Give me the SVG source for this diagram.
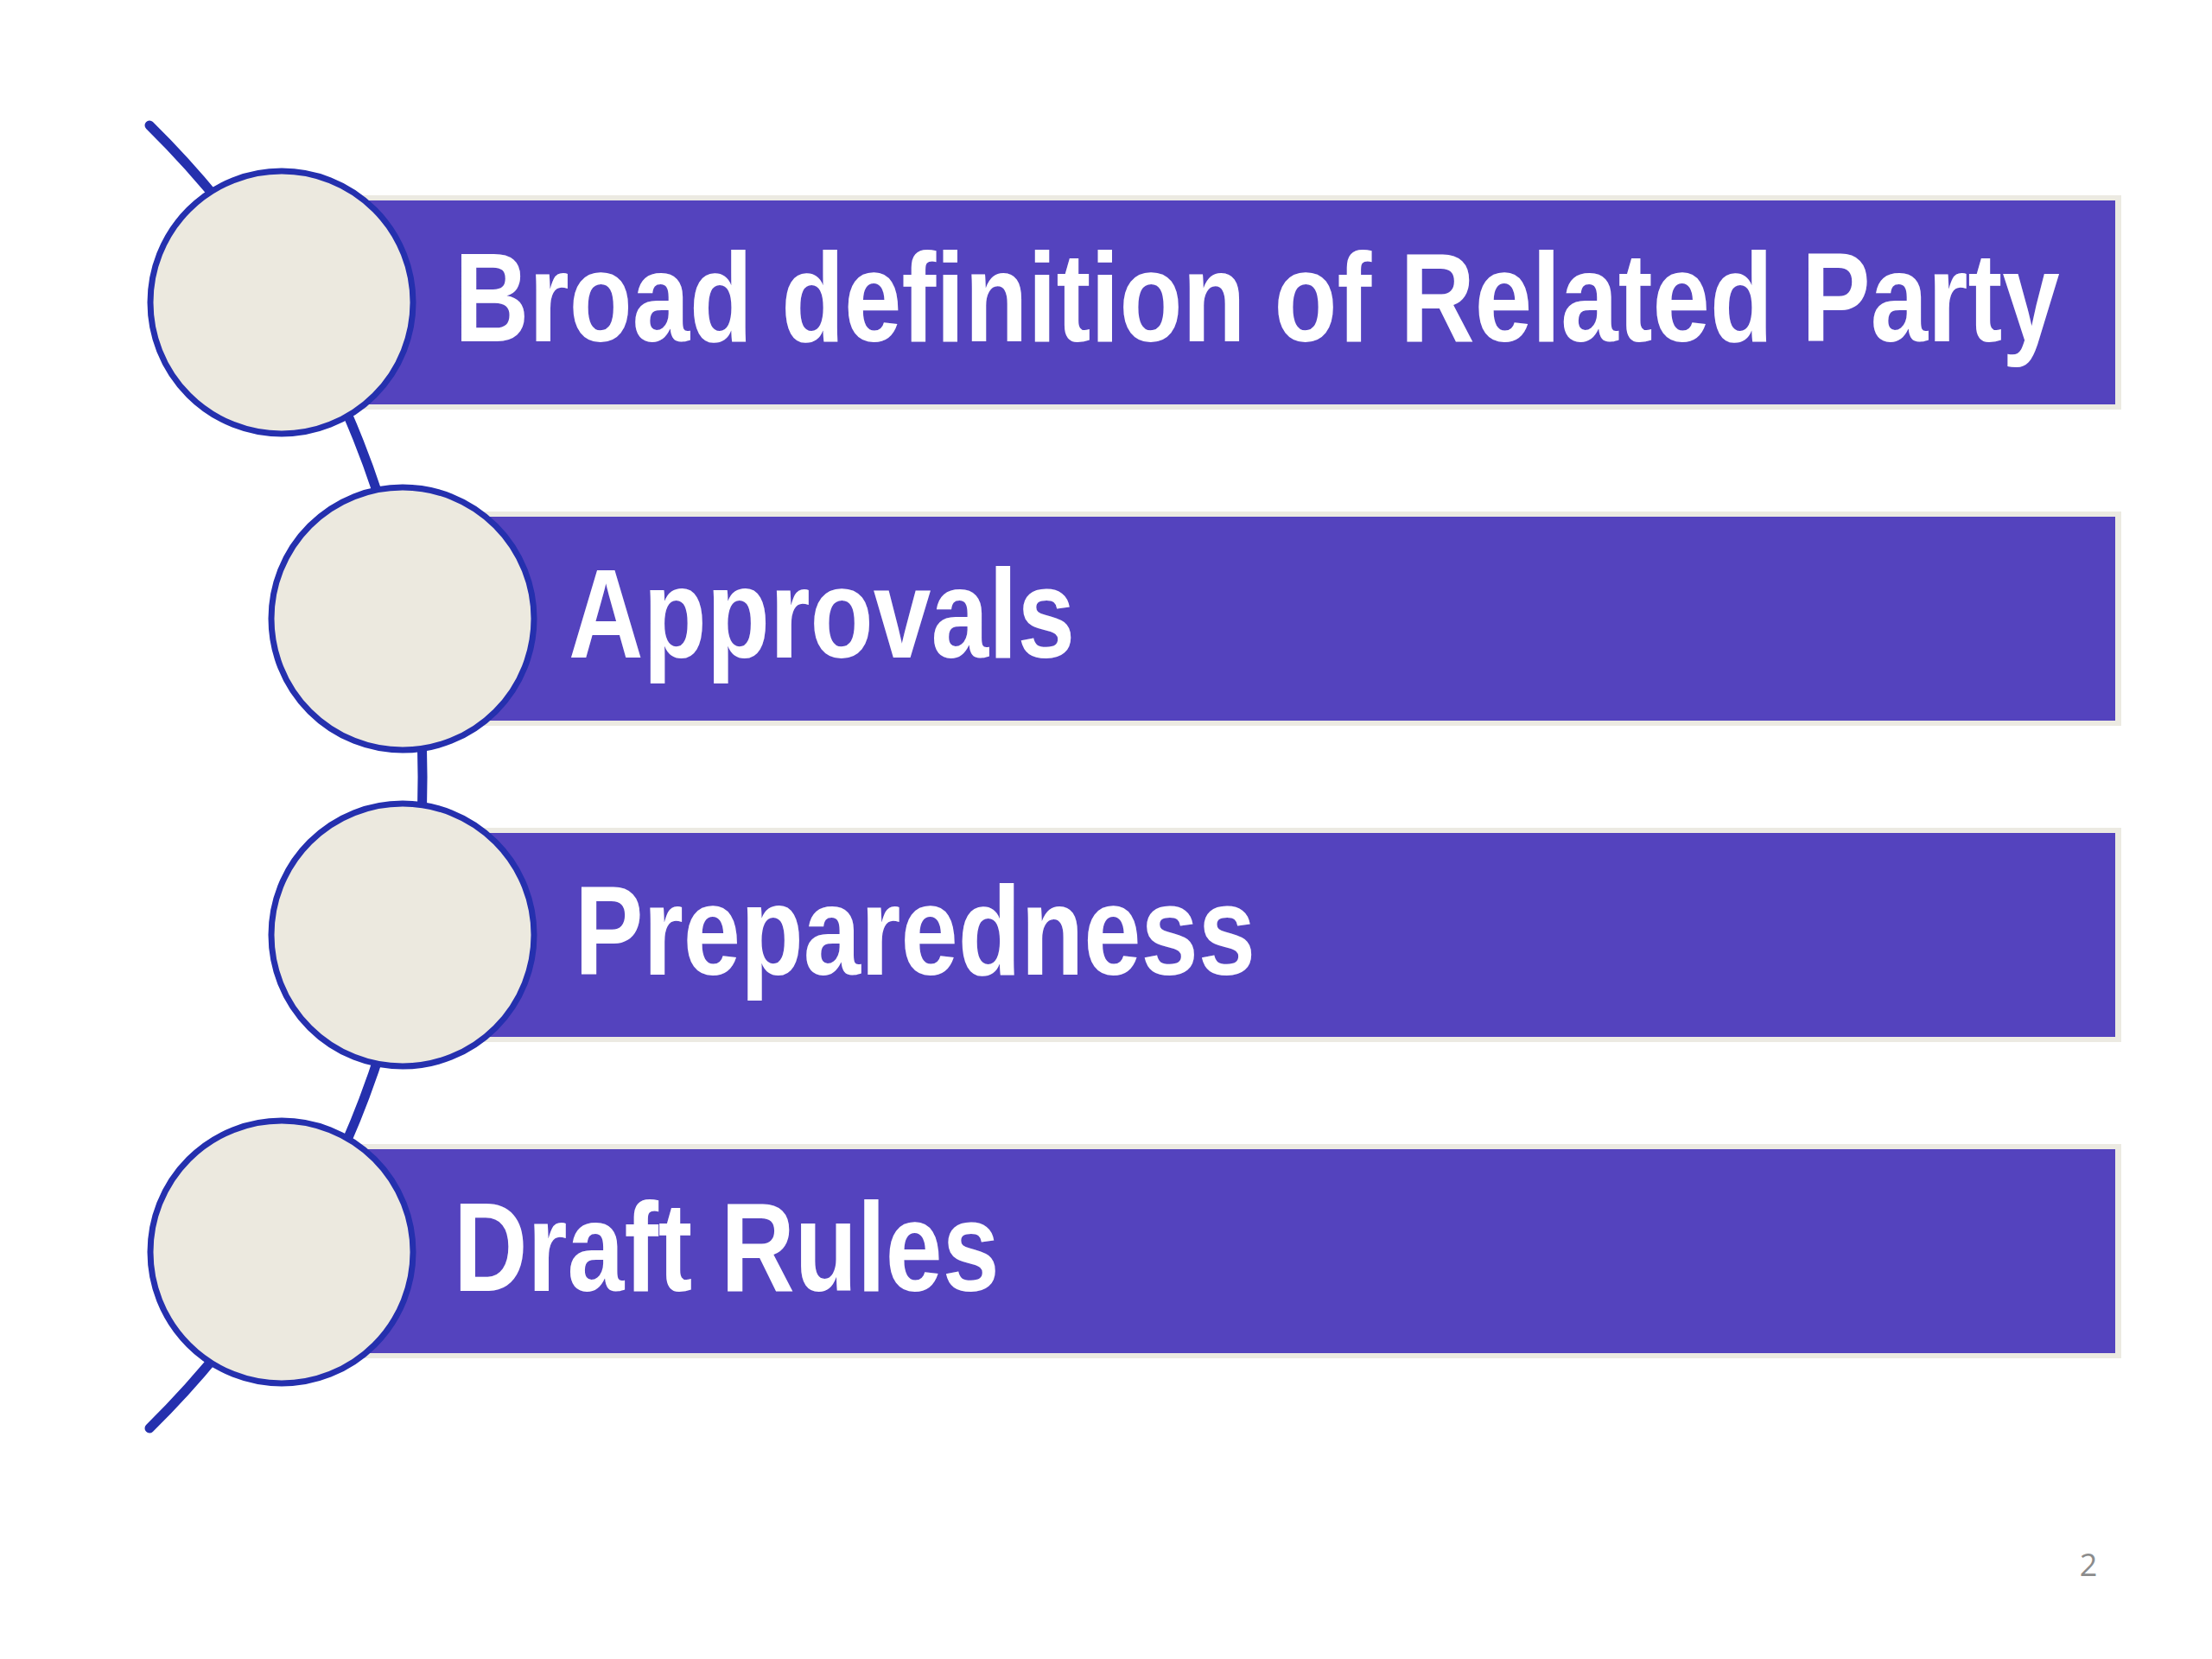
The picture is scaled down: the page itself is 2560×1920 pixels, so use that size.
<svg xmlns="http://www.w3.org/2000/svg" width="2560" height="1920" viewBox="0 0 2560 1920">
<style>
.bg{fill:#ffffff}
.edge{fill:#ECEAE2}
.bar{fill:#5443BE}
.dot{fill:#ECE9DF;stroke:#2530AE;stroke-width:7}
.arc{fill:none;stroke:#2530AE;stroke-width:11;stroke-linecap:round}
.lbl{font-family:"Liberation Sans",Arial,sans-serif;font-weight:bold;font-size:146px;fill:#ffffff}
.pg{font-family:"Open Sans","Liberation Sans",sans-serif;font-size:36px;fill:#8c8c8c}
</style>
<rect class="bg" x="0" y="0" width="2560" height="1920"/>
<g id="connectors">
<path class="arc" d="M173,145 A1057.5,1057.5 0 0 1 173,1653"/>
</g>
<g id="node1">
<rect class="edge" x="320" y="226" width="2135" height="248"/>
<rect class="bar" x="326" y="232" width="2122" height="236"/>
<circle class="dot" cx="326" cy="350" r="152"/>
<text class="lbl" transform="translate(526,395) scale(0.818,1)">Broad definition of Related Party</text>
</g>
<g id="node2">
<rect class="edge" x="460" y="592" width="1995" height="248"/>
<rect class="bar" x="466" y="598" width="1982" height="236"/>
<circle class="dot" cx="466" cy="716" r="152"/>
<text class="lbl" transform="translate(658,761) scale(0.821,1)">Approvals</text>
</g>
<g id="node3">
<rect class="edge" x="460" y="958" width="1995" height="248"/>
<rect class="bar" x="466" y="964" width="1982" height="236"/>
<circle class="dot" cx="466" cy="1082" r="152"/>
<text class="lbl" transform="translate(665,1128) scale(0.816,1)">Preparedness</text>
</g>
<g id="node4">
<rect class="edge" x="320" y="1324" width="2135" height="248"/>
<rect class="bar" x="326" y="1330" width="2122" height="236"/>
<circle class="dot" cx="326" cy="1449" r="152"/>
<text class="lbl" transform="translate(525,1494) scale(0.811,1)">Draft Rules</text>
</g>
<text class="pg" x="2417" y="1824" text-anchor="middle">2</text>
</svg>
